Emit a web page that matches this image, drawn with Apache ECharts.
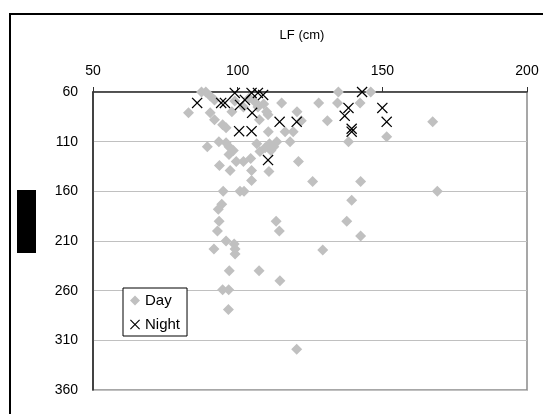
<!DOCTYPE html>
<html>
<head>
<meta charset="utf-8">
<script src="https://cdn.jsdelivr.net/npm/echarts@6/dist/echarts.min.js"></script>
<style>html,body{margin:0;padding:0;background:#fff}#c{width:543px;height:414px}</style>
</head>
<body>
<div id="c"></div>
<script>
// ---- data ----
var xTicks = [50, 100, 150, 200];
var yTicks = [60, 110, 160, 210, 260, 310, 360];
var dayPoints = [
  [83, 81], [87.5, 60], [89, 60], [90.5, 64], [92, 68], [90.5, 81], [92, 88], [94.8, 93], [96, 96],
  [98, 80], [99, 69], [102, 75], [104, 66], [106, 70], [107, 75], [109, 72], [110, 80], [110.5, 83],
  [107.5, 88], [115.2, 71], [120.5, 80], [122, 89], [128, 71], [131, 89], [134.8, 60], [134.5, 71],
  [142.3, 71], [146, 60], [167.4, 90],
  [89.5, 115], [93.5, 110], [96, 111], [97, 115], [98.5, 119], [97, 123], [93.7, 134], [97.4, 139],
  [99.5, 130], [102, 130], [104.5, 127], [104.8, 139], [104.8, 149], [106.6, 112], [107.7, 120],
  [109.5, 116], [111, 112], [112.5, 115], [113.5, 110], [111.5, 119], [110.6, 100], [116.4, 100],
  [119.2, 100], [118.1, 110], [110.8, 140], [121, 130], [125.9, 150], [138.3, 110], [151.5, 105],
  [142.5, 150], [169, 160], [95, 160], [100.8, 160], [102.2, 160], [139.4, 169],
  [94.5, 173], [93.3, 178], [93.6, 190], [93, 200], [113.3, 190], [114.4, 200], [137.7, 190],
  [142.5, 205], [96, 210], [98.8, 213], [99.1, 218], [99.1, 223], [91.8, 218], [129.4, 219],
  [97.1, 240], [107.4, 240], [114.6, 250], [94.8, 259], [96.9, 259], [96.8, 279], [120.4, 319]
];
var nightPoints = [
  [86, 71], [94.3, 71], [95.6, 71], [99, 61], [100.8, 73], [102.5, 68], [104.8, 61], [107, 61],
  [108.8, 63], [105, 81], [100.5, 99.5], [104.8, 99.5], [110.5, 128.5], [114.5, 90], [120.4, 90],
  [143, 60], [138.3, 76], [137, 84], [139.4, 97], [139.4, 100], [150, 76], [151.5, 90]
];
var seriesNames = ['Day', 'Night'];
var xTitle = 'LF (cm)';

// ---- chart ----
var FONT = '"Liberation Sans", Arial, sans-serif';
var xPath = 'path://M0,0.8L0.8,0L5,4.2L9.2,0L10,0.8L5.8,5L10,9.2L9.2,10L5,5.8L0.8,10L0,9.2L4.2,5Z';
var chart = echarts.init(document.getElementById('c'), null, {renderer: 'canvas'});
chart.setOption({
  animation: false,
  backgroundColor: '#fff',
  grid: {left: 93, right: 16, top: 92, bottom: 24, show: true, borderColor: '#8a8a8a', borderWidth: 1.5, backgroundColor: 'transparent'},
  xAxis: {
    type: 'value', position: 'top', min: xTicks[0], max: xTicks[xTicks.length - 1], interval: 50,
    axisLine: {show: true, lineStyle: {color: '#333', width: 1.5}},
    axisTick: {show: true, length: 5, lineStyle: {color: '#333'}},
    axisLabel: {fontSize: 14, fontFamily: FONT, color: '#000', margin: 14},
    splitLine: {show: false}
  },
  yAxis: {
    type: 'value', inverse: true, min: yTicks[0], max: yTicks[yTicks.length - 1], interval: 50,
    axisLine: {show: true, lineStyle: {color: '#222', width: 1.5}},
    axisTick: {show: false},
    axisLabel: {fontSize: 14, fontFamily: FONT, color: '#000', margin: 15},
    splitLine: {show: true, lineStyle: {color: '#c0c0c0', width: 1}}
  },
  legend: {
    orient: 'vertical', left: 123, top: 288,
    backgroundColor: '#fff', borderColor: '#000', borderWidth: 1,
    padding: [5, 7, 4, 7], itemWidth: 10, itemHeight: 10, itemGap: 9,
    textStyle: {fontSize: 15, fontFamily: FONT, color: '#000'},
    data: [{name: seriesNames[0], icon: 'diamond'}, {name: seriesNames[1], icon: xPath}]
  },
  graphic: [
    {type: 'rect', shape: {x: 10, y: 14, width: 620, height: 520}, style: {fill: 'none', stroke: '#000', lineWidth: 2}, silent: true},
    {type: 'rect', shape: {x: 17, y: 190, width: 19, height: 63}, style: {fill: '#000'}, silent: true},
    {type: 'text', style: {text: xTitle, x: 302, y: 35, align: 'center', verticalAlign: 'middle', font: '13px ' + FONT, fill: '#000'}, silent: true}
  ],
  series: [
    {name: seriesNames[0], type: 'scatter', data: dayPoints, symbol: 'diamond', symbolSize: 11,
     itemStyle: {color: '#c0c0c0', opacity: 1}, z: 2},
    {name: seriesNames[1], type: 'scatter', data: nightPoints, symbol: xPath, symbolSize: 11,
     itemStyle: {color: '#000', opacity: 1}, z: 3}
  ]
});
</script>
</body>
</html>
